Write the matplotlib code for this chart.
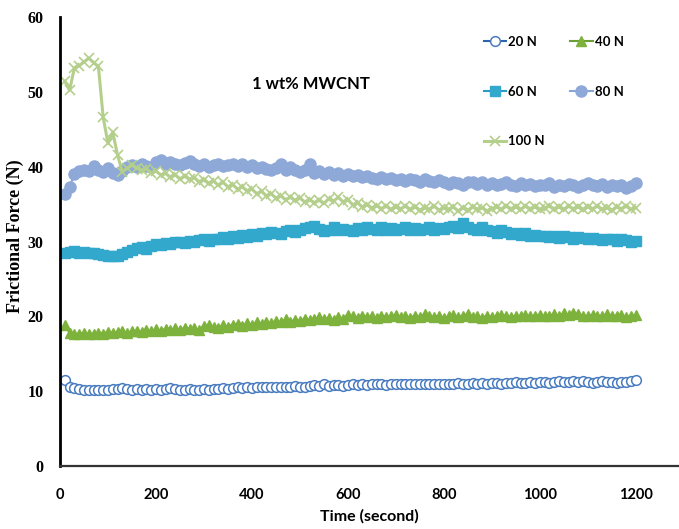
import numpy as np
import matplotlib

matplotlib.use("Agg")
import matplotlib.pyplot as plt

# sampling times (s), one reading every 10 s
time_s = np.arange(10, 1210, 10)

f20 = [
    11.5, 10.6, 10.4, 10.3, 10.2, 10.2, 10.1, 10.2, 10.1, 10.2,
    10.3, 10.3, 10.4, 10.3, 10.2, 10.3, 10.2, 10.3, 10.2, 10.3,
    10.2, 10.3, 10.4, 10.3, 10.2, 10.2, 10.3, 10.2, 10.2, 10.3,
    10.2, 10.3, 10.3, 10.4, 10.3, 10.4, 10.5, 10.4, 10.5, 10.4,
    10.5, 10.5, 10.6, 10.5, 10.5, 10.6, 10.5, 10.6, 10.7, 10.6,
    10.6, 10.7, 10.8, 10.7, 10.9, 10.7, 10.8, 10.8, 10.7, 10.8,
    10.9, 10.8, 10.9, 10.8, 10.9, 11.0, 10.9, 10.8, 10.9, 10.9,
    11.0, 10.9, 10.9, 11.0, 10.9, 11.0, 10.9, 11.0, 11.0, 10.9,
    11.0, 11.0, 11.1, 11.0, 11.0, 11.1, 11.0, 11.1, 11.0, 11.1,
    11.1, 11.0, 11.1, 11.1, 11.2, 11.1, 11.1, 11.2, 11.1, 11.2,
    11.2, 11.1, 11.2, 11.3, 11.2, 11.2, 11.3, 11.2, 11.3, 11.2,
    11.1, 11.2, 11.3, 11.2, 11.2, 11.1, 11.2, 11.2, 11.3, 11.5,
]

f40 = [
    18.8, 17.8, 17.6, 17.7, 17.8, 17.6, 17.7, 17.8, 17.7, 17.9,
    17.8, 17.9, 18.0, 17.8, 18.0, 18.1, 17.9, 18.2, 18.0, 18.3,
    18.1, 18.3, 18.2, 18.4, 18.2, 18.5, 18.3, 18.4, 18.2, 18.7,
    18.9, 18.6, 18.4, 18.8, 18.6, 18.9, 19.0, 18.7, 19.1, 18.9,
    19.2, 19.0, 19.3, 19.1, 19.4, 19.2, 19.6, 19.3, 19.5, 19.4,
    19.7, 19.5, 19.6, 19.9, 19.6, 19.8, 19.5, 19.9, 19.7, 20.2,
    20.0, 19.8, 20.1, 19.9, 20.0, 19.8, 20.1, 19.9, 20.0, 20.2,
    19.9, 20.0, 19.8, 20.1, 19.9, 20.3, 20.0, 19.9, 20.1, 19.8,
    20.0, 20.2, 19.9, 20.1, 20.3, 19.9, 20.0, 19.8, 20.1, 19.9,
    20.0, 20.2, 20.0, 19.9, 20.1, 20.0, 20.2, 20.0, 20.1, 20.2,
    20.0, 20.1, 20.3, 20.1, 20.4, 20.2, 20.5, 20.3, 20.1, 20.0,
    20.2, 20.0, 20.1, 20.3, 20.0, 20.1, 20.2, 19.9, 20.1, 20.2,
]

f60 = [
    28.5, 28.6, 28.7, 28.5, 28.6, 28.4, 28.5, 28.3, 28.2, 28.1,
    28.0, 28.1, 28.3, 28.6, 28.8, 29.1, 29.3, 29.0, 29.4, 29.6,
    29.5, 29.8, 29.6, 29.9, 30.0, 29.8, 30.1, 30.0, 30.2, 30.3,
    30.1, 30.4, 30.3, 30.6, 30.4, 30.7, 30.5, 30.9, 30.6, 31.0,
    30.8, 31.2, 31.0, 31.3, 31.1, 31.0, 31.4, 31.6, 31.3, 31.5,
    31.8, 32.0, 32.1, 31.7, 31.4, 31.6, 31.9, 31.5, 31.7, 31.6,
    31.4, 31.8, 31.6, 32.0, 31.7, 31.5, 31.9, 31.6, 31.8, 31.5,
    31.7, 31.9, 31.6, 31.8, 31.5, 31.7, 32.0, 31.6, 31.8, 31.7,
    31.9, 32.1, 31.8, 32.5, 32.0, 31.7, 31.5, 31.9, 31.6, 31.4,
    31.2, 31.5, 31.3, 31.0, 31.2, 30.9, 31.1, 30.8, 30.9, 30.7,
    30.8, 30.6, 30.7, 30.5, 30.8, 30.6, 30.4, 30.6, 30.5, 30.3,
    30.5, 30.4, 30.2, 30.4, 30.3, 30.1, 30.4, 30.2, 30.0, 30.1,
]

f80 = [
    36.3, 37.3, 39.0, 39.4, 39.6, 39.4, 40.1, 39.5, 39.3, 39.8,
    39.2, 38.9, 39.4, 40.0, 40.2, 40.0, 40.3, 40.1, 39.9, 40.6,
    40.9, 40.4, 40.6, 40.3, 40.2, 40.5, 40.8, 40.4, 40.1, 40.3,
    39.9, 40.2, 40.3, 40.1, 40.2, 40.4, 40.1, 40.3, 40.0, 40.2,
    39.8, 40.0, 39.7, 39.5, 39.8, 40.4, 39.6, 39.9, 39.5, 39.3,
    39.6, 40.3, 39.2, 39.4, 39.0, 39.3, 38.9, 39.1, 38.8, 39.0,
    38.7, 38.9, 38.6, 38.8, 38.5, 38.4, 38.6, 38.3, 38.5, 38.2,
    38.4, 38.1, 38.3, 38.2, 38.0, 38.3, 38.1, 37.9, 38.2, 38.0,
    37.7, 38.0, 37.8, 37.6, 37.9, 38.0, 37.7, 37.9, 37.6, 37.8,
    37.5, 37.7, 37.9, 37.6, 37.4, 37.8, 37.5, 37.7, 37.4, 37.6,
    37.5, 37.8, 37.3, 37.6, 37.4, 37.7, 37.5, 37.3, 37.6, 37.8,
    37.5, 37.4, 37.7, 37.3, 37.5, 37.4, 37.6, 37.2, 37.4, 37.8,
]

f100 = [
    51.4, 50.2, 53.2, 53.5, 54.0, 54.5, 53.9, 53.4, 46.6, 43.1,
    44.6, 41.5, 39.3, 39.8, 40.2, 39.8, 39.5, 39.7, 39.2, 39.4,
    38.9, 39.1, 38.6, 38.9, 38.4, 38.7, 38.3, 38.5, 38.0, 38.2,
    37.8, 38.1, 37.5, 37.9, 37.3, 37.6, 37.0, 37.3, 36.8, 37.0,
    36.4, 36.7, 36.1, 36.4, 35.8, 36.1, 35.6, 35.9, 35.5, 35.8,
    35.3, 35.6, 35.2, 35.5, 35.1, 35.7, 35.4, 35.9, 35.3, 35.6,
    34.9, 35.2, 34.6, 34.9, 34.5, 34.8, 34.4, 34.7, 34.3, 34.6,
    34.4, 34.7, 34.3, 34.6, 34.2, 34.5, 34.3, 34.7, 34.2, 34.5,
    34.3, 34.6, 34.1, 34.5, 34.2, 34.6, 34.3, 34.5, 34.1, 34.4,
    34.6, 34.3, 34.7, 34.4, 34.6, 34.3, 34.7, 34.4, 34.6, 34.3,
    34.5, 34.7, 34.4, 34.6, 34.3, 34.7, 34.4, 34.6, 34.3, 34.6,
    34.4, 34.7, 34.3, 34.5, 34.2, 34.6, 34.4, 34.7, 34.3, 34.5,
]

labels = ["20 N", "40 N", "60 N", "80 N", "100 N"]
x_ticks = [0, 200, 400, 600, 800, 1000, 1200]
y_ticks = [0, 10, 20, 30, 40, 50, 60]

SANS = ["Lato", "DejaVu Sans"]
SERIF = ["Liberation Serif", "DejaVu Serif"]

fig = plt.figure(figsize=(6.79, 5.29), dpi=100)
ax = fig.add_axes([60 / 679, 63 / 529, 619 / 679, 449 / 529])

h20, = ax.plot(time_s, f20, color="#2f64a8", lw=1.5, marker="o", ms=7,
               mfc="white", mec="#4a7cc0", mew=1.1, label=labels[0])
h40, = ax.plot(time_s, f40, color="#6d9e33", lw=1.5, marker="^", ms=7,
               mfc="#7db23c", mec="#7db23c", label=labels[1])
h60, = ax.plot(time_s, f60, color="#2a9cc0", lw=1.5, marker="s", ms=7,
               mfc="#31a8cc", mec="#31a8cc", label=labels[2])
h80, = ax.plot(time_s, f80, color="#8aa4d6", lw=1.5, marker="o", ms=8,
               mfc="#8ea8d8", mec="#8ea8d8", label=labels[3])
h100, = ax.plot(time_s, f100, color="#b4cf8c", lw=2.2, marker="x", ms=7,
                mec="#b4cf8c", mew=1.2, label=labels[4])

ax.set_xlim(0, 1290)
ax.set_ylim(0, 60)
ax.set_xticks(x_ticks)
ax.set_yticks(y_ticks)
ax.tick_params(length=0)
ax.tick_params(axis="x", pad=16)
ax.tick_params(axis="y", pad=12)
for lab in ax.get_xticklabels():
    lab.set_family(SANS)
    lab.set_fontweight("bold")
    lab.set_fontsize(10.5)
for lab in ax.get_yticklabels():
    lab.set_family(SERIF)
    lab.set_fontweight("bold")
    lab.set_fontsize(11.5)

for side in ("top", "right"):
    ax.spines[side].set_visible(False)
ax.spines["left"].set_linewidth(2.0)
ax.spines["left"].set_color("black")
ax.spines["bottom"].set_linewidth(1.6)
ax.spines["bottom"].set_color("#333333")

ax.set_xlabel("Time (second)", family=SANS, fontweight="bold", fontsize=11.5, labelpad=5)
fig.text(15 / 679, 1 - 236 / 529, "Frictional Force (N)", family=SERIF,
         fontweight="bold", fontsize=13, rotation=90, ha="center", va="center")

fig.text(311 / 679, 1 - 84 / 529, "1 wt% MWCNT", family=SANS,
         fontweight="bold", fontsize=12, ha="center", va="center")

# row-major legend: 20/40, 60/80, 100
leg = ax.legend([h20, h60, h100, h40, h80],
                [labels[0], labels[2], labels[4], labels[1], labels[3]],
                loc="upper left", bbox_to_anchor=(484 / 679, 1 - 36 / 529),
                bbox_transform=fig.transFigure, ncol=2, frameon=False,
                prop={"family": SANS, "weight": "bold", "size": 9.5},
                handlelength=1.7, handletextpad=0.15, columnspacing=1.9,
                labelspacing=2.85, borderaxespad=0, borderpad=0)

fig.savefig("out.png", dpi=100)
